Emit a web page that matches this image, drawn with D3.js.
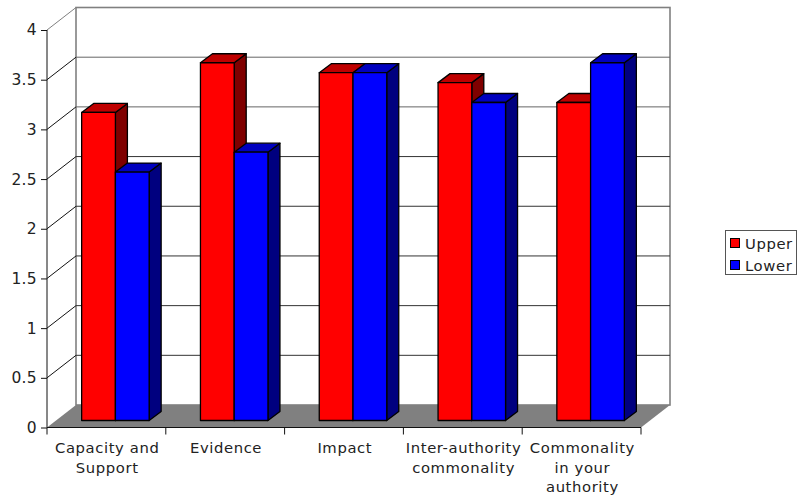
<!DOCTYPE html>
<html>
<head>
<meta charset="utf-8">
<script src="https://cdn.jsdelivr.net/npm/d3@7/dist/d3.min.js"></script>
<style>
html, body { margin: 0; padding: 0; background: #fff; }
svg { display: block; }
text { font-family: "DejaVu Sans", Verdana, sans-serif; font-size: 14.8px; letter-spacing: 0.6px; fill: #222; }
</style>
</head>
<body>
<svg id="chart" width="800" height="497"></svg>
<script>
const categories = ["Capacity and Support", "Evidence", "Impact", "Inter-authority commonality", "Commonality in your authority"];
const categoryLines = [["Capacity and", "Support"], ["Evidence"], ["Impact"], ["Inter-authority", "commonality"], ["Commonality", "in your", "authority"]];
const upper = [3.1, 3.6, 3.5, 3.4, 3.2];
const lower = [2.5, 2.7, 3.5, 3.2, 3.6];
const yTicks = [0, 0.5, 1, 1.5, 2, 2.5, 3, 3.5, 4];
const seriesNames = ["Upper", "Lower"];
const seriesColors = [
  { front: "#ff0000", top: "#bf0000", side: "#7f0000" },
  { front: "#0000ff", top: "#0000bf", side: "#00007f" }
];

const svg = d3.select("#chart");
const left = 47, right = 641, floorY = 427.5, topY = 30;
const depthX = 29, depthY = 22.5;
const barNearX = 9, barNearY = 7, barDepthX = 12, barDepthY = 9;

const x = d3.scaleBand().domain(categories).range([left, right]);
const inner = d3.scaleBand().domain(seriesNames).range([0, x.bandwidth()]).paddingOuter(0.76).paddingInner(0);
const y = d3.scaleLinear().domain([0, 4]).range([floorY, topY]);

const wall = svg.append("g");
// Back wall with its horizontal gridlines
wall.append("rect")
  .attr("x", left + depthX).attr("y", y(4) - depthY)
  .attr("width", right - left).attr("height", y(0) - y(4))
  .attr("fill", "#fff").attr("stroke", "#808080").attr("stroke-width", 1.6);
wall.selectAll("line.grid").data(yTicks.slice(1, -1)).join("line")
  .attr("class", "grid")
  .attr("x1", left + depthX).attr("x2", right + depthX)
  .attr("y1", d => y(d) - depthY).attr("y2", d => y(d) - depthY)
  .attr("stroke", d => d >= 3 ? "#666" : "#333");
// Diagonal rules along the left side wall
wall.selectAll("line.side").data(yTicks.slice(1)).join("line")
  .attr("class", "side")
  .attr("x1", left).attr("x2", left + depthX)
  .attr("y1", d => y(d)).attr("y2", d => y(d) - depthY)
  .attr("stroke", d => d === 4 ? "#808080" : "#111");
// Grey floor
wall.append("polygon")
  .attr("points", [[left, floorY], [right, floorY], [right + depthX, floorY - depthY], [left + depthX, floorY - depthY]].join(" "))
  .attr("fill", "#808080");

// Extruded bars
const barLayer = svg.append("g").attr("stroke", "#000").attr("stroke-width", 1.3).attr("stroke-linejoin", "round");
categories.forEach((cat, i) => {
  [upper, lower].forEach((values, s) => {
    const name = seriesNames[s];
    const c = seriesColors[s];
    const x0 = x(cat) + inner(name) + barNearX;
    const x1 = x0 + inner.bandwidth();
    const yB = y(0) - barNearY;
    const yT = y(values[i]) - barNearY;
    const g = barLayer.append("g");
    g.append("polygon").attr("fill", c.side)
      .attr("points", [[x1, yT], [x1 + barDepthX, yT - barDepthY], [x1 + barDepthX, yB - barDepthY], [x1, yB]].join(" "));
    g.append("polygon").attr("fill", c.top)
      .attr("points", [[x0, yT], [x0 + barDepthX, yT - barDepthY], [x1 + barDepthX, yT - barDepthY], [x1, yT]].join(" "));
    g.append("rect").attr("fill", c.front)
      .attr("x", x0).attr("y", yT).attr("width", x1 - x0).attr("height", yB - yT);
  });
});

// Value axis
const yAxis = d3.axisLeft(y).tickValues(yTicks).tickSize(6).tickPadding(4).tickFormat(d3.format("~g"));
const yG = svg.append("g").attr("transform", `translate(${left},0)`).call(yAxis);
yG.select(".domain").attr("stroke", "#111").attr("d", `M${0},${y(4)}V${y(0)}`);
yG.selectAll(".tick line").attr("stroke", "#111");
yG.selectAll("text").style("font-size", "15.5px").style("letter-spacing", "0.3px");

// Category axis with wrapped labels
const base = svg.append("g");
base.append("line").attr("x1", left).attr("x2", right).attr("y1", floorY).attr("y2", floorY).attr("stroke", "#111");
base.selectAll("line.tick").data(d3.range(categories.length + 1)).join("line")
  .attr("class", "tick")
  .attr("x1", i => left + i * x.step()).attr("x2", i => left + i * x.step())
  .attr("y1", floorY).attr("y2", floorY + 7).attr("stroke", "#111");
const labels = base.selectAll("text").data(categories).join("text")
  .attr("text-anchor", "middle")
  .attr("transform", d => `translate(${x(d) + x.bandwidth() / 2 + 0.8},453)`);
labels.each(function (d, i) {
  d3.select(this).selectAll("tspan").data(categoryLines[i]).join("tspan")
    .attr("x", 0).attr("dy", (_, k) => k ? 19.7 : 0).text(t => t);
});

// Legend
const legend = svg.append("g");
legend.append("rect").attr("x", 725.5).attr("y", 230.5).attr("width", 71).attr("height", 44)
  .attr("fill", "#fff").attr("stroke", "#555");
seriesNames.forEach((name, s) => {
  legend.append("rect").attr("x", 730.5).attr("y", 238.5 + s * 22).attr("width", 9).attr("height", 9)
    .attr("fill", seriesColors[s].front).attr("stroke", "#000");
  legend.append("text").attr("x", 745).attr("y", 249 + s * 21.5).text(name);
});
</script>
</body>
</html>
